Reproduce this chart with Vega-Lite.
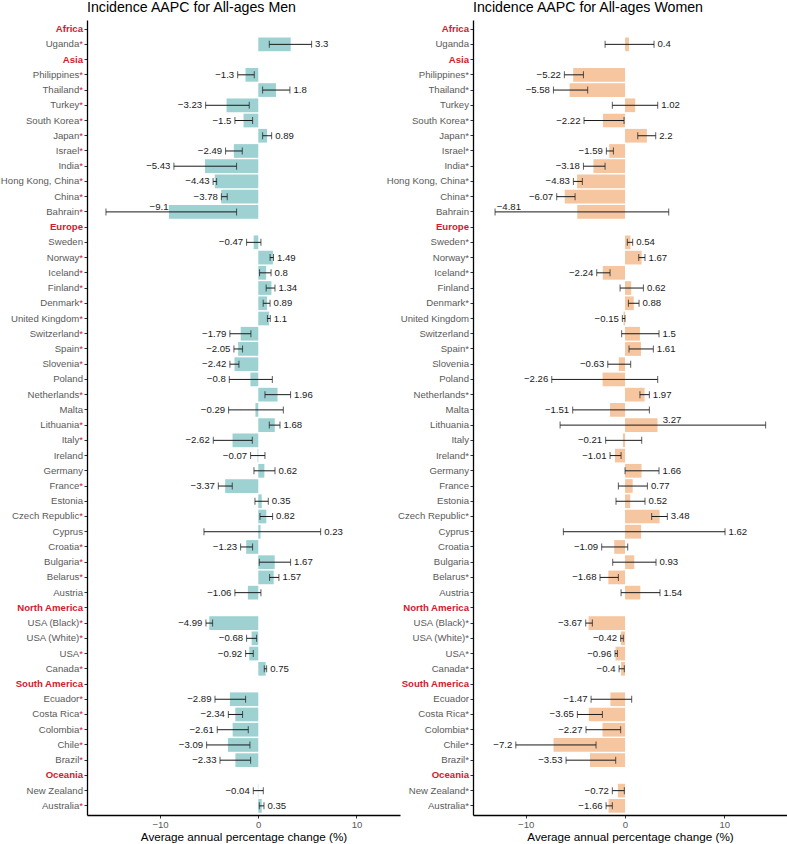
{
  "$schema": "https://vega.github.io/schema/vega-lite/v6.json",
  "padding": 0,
  "background": "white",
  "bounds": "flush",
  "spacing": 73,
  "config": {"view": {"stroke": null}, "font": "Liberation Sans", "axis": {"grid": false}},
  "datasets": {
    "men": [
      {"label": "Uganda*", "aapc": 3.3, "lower": 1.12, "upper": 5.43},
      {"label": "Philippines*", "aapc": -1.3, "lower": -2.1, "upper": -0.41},
      {"label": "Thailand*", "aapc": 1.8, "lower": 0.44, "upper": 3.22},
      {"label": "Turkey*", "aapc": -3.23, "lower": -5.36, "upper": -0.92},
      {"label": "South Korea*", "aapc": -1.5, "lower": -2.38, "upper": -0.58},
      {"label": "Japan*", "aapc": 0.89, "lower": 0.44, "upper": 1.36},
      {"label": "Israel*", "aapc": -2.49, "lower": -3.33, "upper": -1.63},
      {"label": "India*", "aapc": -5.43, "lower": -8.59, "upper": -2.21},
      {"label": "Hong Kong, China*", "aapc": -4.43, "lower": -4.6, "upper": -4.24},
      {"label": "China*", "aapc": -3.78, "lower": -3.76, "upper": -3.16},
      {"label": "Bahrain*", "aapc": -9.1, "lower": -15.51, "upper": -2.21, "label_x": -10.1},
      {"label": "Sweden", "aapc": -0.47, "lower": -1.19, "upper": 0.27},
      {"label": "Norway*", "aapc": 1.49, "lower": 1.2, "upper": 1.55},
      {"label": "Iceland*", "aapc": 0.8, "lower": 0.13, "upper": 1.3},
      {"label": "Finland*", "aapc": 1.34, "lower": 0.8, "upper": 1.7},
      {"label": "Denmark*", "aapc": 0.89, "lower": 0.5, "upper": 1.2},
      {"label": "United Kingdom*", "aapc": 1.1, "lower": 0.93, "upper": 1.22},
      {"label": "Switzerland*", "aapc": -1.79, "lower": -2.89, "upper": -0.75},
      {"label": "Spain*", "aapc": -2.05, "lower": -2.48, "upper": -1.6},
      {"label": "Slovenia*", "aapc": -2.42, "lower": -2.89, "upper": -1.97},
      {"label": "Poland", "aapc": -0.8, "lower": -2.95, "upper": 1.43},
      {"label": "Netherlands*", "aapc": 1.96, "lower": 0.68, "upper": 3.29},
      {"label": "Malta", "aapc": -0.29, "lower": -3.02, "upper": 2.55},
      {"label": "Lithuania*", "aapc": 1.68, "lower": 1.12, "upper": 2.21},
      {"label": "Italy*", "aapc": -2.62, "lower": -4.58, "upper": -0.61},
      {"label": "Ireland", "aapc": -0.07, "lower": -0.78, "upper": 0.68},
      {"label": "Germany", "aapc": 0.62, "lower": -0.44, "upper": 1.7},
      {"label": "France*", "aapc": -3.37, "lower": -4.07, "upper": -2.65},
      {"label": "Estonia", "aapc": 0.35, "lower": -0.34, "upper": 1.02},
      {"label": "Czech Republic*", "aapc": 0.82, "lower": 0.17, "upper": 1.46},
      {"label": "Cyprus", "aapc": 0.23, "lower": -5.53, "upper": 6.35},
      {"label": "Croatia*", "aapc": -1.23, "lower": -1.8, "upper": -0.58},
      {"label": "Bulgaria*", "aapc": 1.67, "lower": 0.1, "upper": 3.29},
      {"label": "Belarus*", "aapc": 1.57, "lower": 1.15, "upper": 2.1},
      {"label": "Austria", "aapc": -1.06, "lower": -2.38, "upper": 0.27},
      {"label": "USA (Black)*", "aapc": -4.99, "lower": -5.33, "upper": -4.65},
      {"label": "USA (White)*", "aapc": -0.68, "lower": -1.19, "upper": -0.17},
      {"label": "USA*", "aapc": -0.92, "lower": -1.29, "upper": -0.51},
      {"label": "Canada*", "aapc": 0.75, "lower": 0.61, "upper": 0.85},
      {"label": "Ecuador*", "aapc": -2.89, "lower": -4.41, "upper": -1.29},
      {"label": "Costa Rica*", "aapc": -2.34, "lower": -3.05, "upper": -1.6},
      {"label": "Colombia*", "aapc": -2.61, "lower": -4.18, "upper": -1.02},
      {"label": "Chile*", "aapc": -3.09, "lower": -5.26, "upper": -0.85},
      {"label": "Brazil*", "aapc": -2.33, "lower": -3.9, "upper": -0.78},
      {"label": "New Zealand", "aapc": -0.04, "lower": -0.51, "upper": 0.51},
      {"label": "Australia*", "aapc": 0.35, "lower": 0.1, "upper": 0.58}
    ],
    "women": [
      {"label": "Uganda", "aapc": 0.4, "lower": -2.01, "upper": 2.92},
      {"label": "Philippines*", "aapc": -5.22, "lower": -6.11, "upper": -4.19},
      {"label": "Thailand*", "aapc": -5.58, "lower": -7.21, "upper": -3.76},
      {"label": "Turkey", "aapc": 1.02, "lower": -1.28, "upper": 3.29},
      {"label": "South Korea*", "aapc": -2.22, "lower": -4.13, "upper": -0.1},
      {"label": "Japan*", "aapc": 2.2, "lower": 1.28, "upper": 3.09},
      {"label": "Israel*", "aapc": -1.59, "lower": -1.88, "upper": -1.17},
      {"label": "India*", "aapc": -3.18, "lower": -4.19, "upper": -2.01},
      {"label": "Hong Kong, China*", "aapc": -4.83, "lower": -5.2, "upper": -4.3},
      {"label": "China*", "aapc": -6.07, "lower": -6.88, "upper": -5.03},
      {"label": "Bahrain", "aapc": -4.81, "lower": -13.09, "upper": 4.4, "label_x": -11.7},
      {"label": "Sweden*", "aapc": 0.54, "lower": 0.23, "upper": 0.77},
      {"label": "Norway*", "aapc": 1.67, "lower": 1.38, "upper": 2.01},
      {"label": "Iceland*", "aapc": -2.24, "lower": -2.85, "upper": -1.51},
      {"label": "Finland", "aapc": 0.62, "lower": -0.5, "upper": 1.85},
      {"label": "Denmark*", "aapc": 0.88, "lower": 0.34, "upper": 1.41},
      {"label": "United Kingdom", "aapc": -0.15, "lower": -0.27, "upper": 0.0},
      {"label": "Switzerland", "aapc": 1.5, "lower": -0.34, "upper": 3.42},
      {"label": "Spain*", "aapc": 1.61, "lower": 0.4, "upper": 2.85},
      {"label": "Slovenia", "aapc": -0.63, "lower": -1.74, "upper": 0.57},
      {"label": "Poland", "aapc": -2.26, "lower": -7.38, "upper": 3.29},
      {"label": "Netherlands*", "aapc": 1.97, "lower": 1.5, "upper": 2.45},
      {"label": "Malta", "aapc": -1.51, "lower": -5.27, "upper": 2.45},
      {"label": "Lithuania", "aapc": 3.27, "lower": -6.54, "upper": 14.16, "label_x": 4.74},
      {"label": "Italy", "aapc": -0.21, "lower": -1.95, "upper": 1.68},
      {"label": "Ireland*", "aapc": -1.01, "lower": -1.51, "upper": -0.4},
      {"label": "Germany", "aapc": 1.66, "lower": 0.0, "upper": 3.42},
      {"label": "France", "aapc": 0.77, "lower": -0.67, "upper": 2.25},
      {"label": "Estonia", "aapc": 0.52, "lower": -0.91, "upper": 2.01},
      {"label": "Czech Republic*", "aapc": 3.48, "lower": 2.68, "upper": 4.26},
      {"label": "Cyprus", "aapc": 1.62, "lower": -6.21, "upper": 10.07},
      {"label": "Croatia", "aapc": -1.09, "lower": -2.35, "upper": 0.27},
      {"label": "Bulgaria", "aapc": 0.93, "lower": -1.24, "upper": 3.12},
      {"label": "Belarus*", "aapc": -1.68, "lower": -2.52, "upper": -0.67},
      {"label": "Austria", "aapc": 1.54, "lower": -0.4, "upper": 3.52},
      {"label": "USA (Black)*", "aapc": -3.67, "lower": -3.96, "upper": -3.29},
      {"label": "USA (White)*", "aapc": -0.42, "lower": -0.44, "upper": -0.17},
      {"label": "USA*", "aapc": -0.96, "lower": -1.01, "upper": -0.77},
      {"label": "Canada*", "aapc": -0.4, "lower": -0.6, "upper": -0.07},
      {"label": "Ecuador", "aapc": -1.47, "lower": -3.42, "upper": 0.67},
      {"label": "Costa Rica*", "aapc": -3.65, "lower": -4.8, "upper": -2.28},
      {"label": "Colombia*", "aapc": -2.27, "lower": -3.93, "upper": -0.44},
      {"label": "Chile*", "aapc": -7.2, "lower": -11.0, "upper": -2.92},
      {"label": "Brazil*", "aapc": -3.53, "lower": -5.94, "upper": -0.94},
      {"label": "New Zealand*", "aapc": -0.72, "lower": -1.28, "upper": -0.07},
      {"label": "Australia*", "aapc": -1.66, "lower": -1.91, "upper": -1.28}
    ]
  },
  "hconcat": [
    {
      "width": 313,
      "height": 795,
      "title": {"text": "Incidence AAPC for All-ages Men", "anchor": "start", "frame": "group", "fontSize": 14.2, "fontWeight": "normal", "color": "black", "offset": 5},
      "data": {"name": "men"},
      "resolve": {"axis": {"y": "independent"}},
      "layer": [
        {
          "encoding": {
            "y": {
              "field": "label", "type": "nominal",
              "scale": {"domain": ["Africa", "Uganda*", "Asia", "Philippines*", "Thailand*", "Turkey*", "South Korea*", "Japan*", "Israel*", "India*", "Hong Kong, China*", "China*", "Bahrain*", "Europe", "Sweden", "Norway*", "Iceland*", "Finland*", "Denmark*", "United Kingdom*", "Switzerland*", "Spain*", "Slovenia*", "Poland", "Netherlands*", "Malta", "Lithuania*", "Italy*", "Ireland", "Germany", "France*", "Estonia", "Czech Republic*", "Cyprus", "Croatia*", "Bulgaria*", "Belarus*", "Austria", "North America", "USA (Black)*", "USA (White)*", "USA*", "Canada*", "South America", "Ecuador*", "Costa Rica*", "Colombia*", "Chile*", "Brazil*", "Oceania", "New Zealand", "Australia*"], "paddingInner": 0.1, "paddingOuter": 0.15},
              "axis": {
                "title": null, "orient": "left", "domainColor": "black", "domainWidth": 1.3, "tickColor": "#333333", "tickSize": 3, "labelPadding": 1.5, "labelFontSize": 9.6,
                "labelExpr": "indexof(datum.value, '*') >= 0 ? '' : datum.value",
                "labelColor": {"condition": {"test": "indexof(['Africa','Asia','Europe','North America','South America','Oceania'], datum.value) >= 0", "value": "#D0202E"}, "value": "#5A5A5A"},
                "labelFontWeight": {"condition": {"test": "indexof(['Africa','Asia','Europe','North America','South America','Oceania'], datum.value) >= 0", "value": "bold"}, "value": "normal"}
              }
            }
          },
          "layer": [
            {
              "mark": {"type": "bar", "color": "#9DD1D2"},
              "encoding": {
                "x": {
                  "field": "aapc", "type": "quantitative",
                  "scale": {"domain": [-17.44, 14.43], "nice": false, "zero": false},
                  "title": "Average annual percentage change (%)",
                  "axis": {"values": [-10, 0, 10], "domainColor": "black", "domainWidth": 1.3, "tickColor": "#333333", "tickSize": 3, "labelPadding": 1, "labelFontSize": 9.6, "labelColor": "#5A5A5A", "titleFontSize": 11.7, "titleFontWeight": "normal", "titleColor": "black", "titlePadding": 3}
                }
              }
            },
            {
              "mark": {"type": "rule", "color": "#1a1a1a", "strokeWidth": 1},
              "encoding": {"x": {"field": "lower", "type": "quantitative", "title": "Average annual percentage change (%)"}, "x2": {"field": "upper"}}
            },
            {
              "mark": {"type": "tick", "color": "#1a1a1a", "size": 7, "thickness": 1},
              "encoding": {"x": {"field": "lower", "type": "quantitative", "title": "Average annual percentage change (%)"}}
            },
            {
              "mark": {"type": "tick", "color": "#1a1a1a", "size": 7, "thickness": 1},
              "encoding": {"x": {"field": "upper", "type": "quantitative", "title": "Average annual percentage change (%)"}}
            },
            {
              "transform": [{"filter": "!isValid(datum.label_x) && datum.aapc < 0"}],
              "mark": {"type": "text", "align": "right", "baseline": "middle", "dx": -3.5, "fontSize": 9.6, "color": "#1a1a1a"},
              "encoding": {"x": {"field": "lower", "type": "quantitative", "title": "Average annual percentage change (%)"}, "text": {"field": "aapc", "type": "quantitative", "format": "~g"}}
            },
            {
              "transform": [{"filter": "!isValid(datum.label_x) && datum.aapc >= 0"}],
              "mark": {"type": "text", "align": "left", "baseline": "middle", "dx": 3.5, "fontSize": 9.6, "color": "#1a1a1a"},
              "encoding": {"x": {"field": "upper", "type": "quantitative", "title": "Average annual percentage change (%)"}, "text": {"field": "aapc", "type": "quantitative", "format": "~g"}}
            },
            {
              "transform": [{"filter": "isValid(datum.label_x)"}],
              "mark": {"type": "text", "align": "center", "baseline": "middle", "dy": -5, "fontSize": 9.6, "color": "#1a1a1a"},
              "encoding": {"x": {"field": "label_x", "type": "quantitative", "title": "Average annual percentage change (%)"}, "text": {"field": "aapc", "type": "quantitative", "format": "~g"}}
            }
          ]
        },
        {
          "mark": {"type": "point", "opacity": 0},
          "encoding": {
            "x": {"field": "aapc", "type": "quantitative", "title": "Average annual percentage change (%)"},
            "y": {
              "field": "label", "type": "nominal",
              "scale": {"domain": ["Africa", "Uganda*", "Asia", "Philippines*", "Thailand*", "Turkey*", "South Korea*", "Japan*", "Israel*", "India*", "Hong Kong, China*", "China*", "Bahrain*", "Europe", "Sweden", "Norway*", "Iceland*", "Finland*", "Denmark*", "United Kingdom*", "Switzerland*", "Spain*", "Slovenia*", "Poland", "Netherlands*", "Malta", "Lithuania*", "Italy*", "Ireland", "Germany", "France*", "Estonia", "Czech Republic*", "Cyprus", "Croatia*", "Bulgaria*", "Belarus*", "Austria", "North America", "USA (Black)*", "USA (White)*", "USA*", "Canada*", "South America", "Ecuador*", "Costa Rica*", "Colombia*", "Chile*", "Brazil*", "Oceania", "New Zealand", "Australia*"], "paddingInner": 0.1, "paddingOuter": 0.15},
              "axis": {"title": null, "orient": "left", "domain": false, "ticks": true, "tickOpacity": 0, "tickSize": 3, "labelPadding": 5.23, "labelFontSize": 9.6, "labelColor": "#5A5A5A", "labelExpr": "indexof(datum.value, '*') >= 0 ? replace(datum.value, '*', '') : ''"}
            }
          }
        },
        {
          "mark": {"type": "point", "opacity": 0},
          "encoding": {
            "x": {"field": "aapc", "type": "quantitative", "title": "Average annual percentage change (%)"},
            "y": {
              "field": "label", "type": "nominal",
              "scale": {"domain": ["Africa", "Uganda*", "Asia", "Philippines*", "Thailand*", "Turkey*", "South Korea*", "Japan*", "Israel*", "India*", "Hong Kong, China*", "China*", "Bahrain*", "Europe", "Sweden", "Norway*", "Iceland*", "Finland*", "Denmark*", "United Kingdom*", "Switzerland*", "Spain*", "Slovenia*", "Poland", "Netherlands*", "Malta", "Lithuania*", "Italy*", "Ireland", "Germany", "France*", "Estonia", "Czech Republic*", "Cyprus", "Croatia*", "Bulgaria*", "Belarus*", "Austria", "North America", "USA (Black)*", "USA (White)*", "USA*", "Canada*", "South America", "Ecuador*", "Costa Rica*", "Colombia*", "Chile*", "Brazil*", "Oceania", "New Zealand", "Australia*"], "paddingInner": 0.1, "paddingOuter": 0.15},
              "axis": {"title": null, "orient": "left", "domain": false, "ticks": true, "tickOpacity": 0, "tickSize": 3, "labelPadding": 1.5, "labelFontSize": 9.6, "labelColor": "#D0202E", "labelExpr": "indexof(datum.value, '*') >= 0 ? '*' : ''"}
            }
          }
        }
      ]
    },
    {
      "width": 314,
      "height": 795,
      "title": {"text": "Incidence AAPC for All-ages Women", "anchor": "start", "frame": "group", "fontSize": 14.2, "fontWeight": "normal", "color": "black", "offset": 5},
      "data": {"name": "women"},
      "encoding": {
        "y": {
          "field": "label", "type": "nominal",
          "scale": {"domain": ["Africa", "Uganda", "Asia", "Philippines*", "Thailand*", "Turkey", "South Korea*", "Japan*", "Israel*", "India*", "Hong Kong, China*", "China*", "Bahrain", "Europe", "Sweden*", "Norway*", "Iceland*", "Finland", "Denmark*", "United Kingdom", "Switzerland", "Spain*", "Slovenia", "Poland", "Netherlands*", "Malta", "Lithuania", "Italy", "Ireland*", "Germany", "France", "Estonia", "Czech Republic*", "Cyprus", "Croatia", "Bulgaria", "Belarus*", "Austria", "North America", "USA (Black)*", "USA (White)*", "USA*", "Canada*", "South America", "Ecuador", "Costa Rica*", "Colombia*", "Chile*", "Brazil*", "Oceania", "New Zealand*", "Australia*"], "paddingInner": 0.1, "paddingOuter": 0.15},
          "axis": {
            "title": null, "orient": "left", "domainColor": "black", "domainWidth": 1.3, "tickColor": "#333333", "tickSize": 3, "labelPadding": 1.5, "labelFontSize": 9.6,
            "labelColor": {"condition": {"test": "indexof(['Africa','Asia','Europe','North America','South America','Oceania'], datum.value) >= 0", "value": "#D0202E"}, "value": "#5A5A5A"},
            "labelFontWeight": {"condition": {"test": "indexof(['Africa','Asia','Europe','North America','South America','Oceania'], datum.value) >= 0", "value": "bold"}, "value": "normal"}
          }
        }
      },
      "layer": [
        {
          "mark": {"type": "bar", "color": "#F5C6A0"},
          "encoding": {
            "x": {
              "field": "aapc", "type": "quantitative",
              "scale": {"domain": [-15.31, 16.31], "nice": false, "zero": false},
              "title": "Average annual percentage change (%)",
              "axis": {"values": [-10, 0, 10], "domainColor": "black", "domainWidth": 1.3, "tickColor": "#333333", "tickSize": 3, "labelPadding": 1, "labelFontSize": 9.6, "labelColor": "#5A5A5A", "titleFontSize": 11.7, "titleFontWeight": "normal", "titleColor": "black", "titlePadding": 3}
            }
          }
        },
        {
          "mark": {"type": "rule", "color": "#1a1a1a", "strokeWidth": 1},
          "encoding": {"x": {"field": "lower", "type": "quantitative", "title": "Average annual percentage change (%)"}, "x2": {"field": "upper"}}
        },
        {
          "mark": {"type": "tick", "color": "#1a1a1a", "size": 7, "thickness": 1},
          "encoding": {"x": {"field": "lower", "type": "quantitative", "title": "Average annual percentage change (%)"}}
        },
        {
          "mark": {"type": "tick", "color": "#1a1a1a", "size": 7, "thickness": 1},
          "encoding": {"x": {"field": "upper", "type": "quantitative", "title": "Average annual percentage change (%)"}}
        },
        {
          "transform": [{"filter": "!isValid(datum.label_x) && datum.aapc < 0"}],
          "mark": {"type": "text", "align": "right", "baseline": "middle", "dx": -3.5, "fontSize": 9.6, "color": "#1a1a1a"},
          "encoding": {"x": {"field": "lower", "type": "quantitative", "title": "Average annual percentage change (%)"}, "text": {"field": "aapc", "type": "quantitative", "format": "~g"}}
        },
        {
          "transform": [{"filter": "!isValid(datum.label_x) && datum.aapc >= 0"}],
          "mark": {"type": "text", "align": "left", "baseline": "middle", "dx": 3.5, "fontSize": 9.6, "color": "#1a1a1a"},
          "encoding": {"x": {"field": "upper", "type": "quantitative", "title": "Average annual percentage change (%)"}, "text": {"field": "aapc", "type": "quantitative", "format": "~g"}}
        },
        {
          "transform": [{"filter": "isValid(datum.label_x)"}],
          "mark": {"type": "text", "align": "center", "baseline": "middle", "dy": -5, "fontSize": 9.6, "color": "#1a1a1a"},
          "encoding": {"x": {"field": "label_x", "type": "quantitative", "title": "Average annual percentage change (%)"}, "text": {"field": "aapc", "type": "quantitative", "format": "~g"}}
        }
      ]
    }
  ]
}
